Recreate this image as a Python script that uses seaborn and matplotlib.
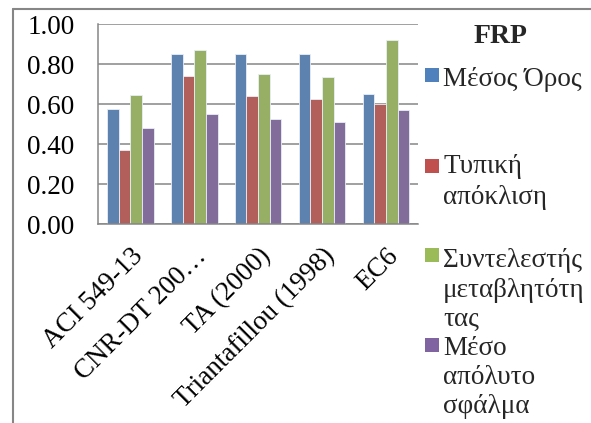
import matplotlib
matplotlib.use("Agg")
import matplotlib.pyplot as plt
from matplotlib.lines import Line2D
from matplotlib.patches import Rectangle
import seaborn as sns
import pandas as pd
import numpy as np

# Categories (design models) and the four statistics per model
models = ["ACI 549-13", "CNR-DT 200…", "TA (2000)", "Triantafillou (1998)", "EC6"]
mean_vals = [0.577, 0.850, 0.853, 0.852, 0.650]
std_vals = [0.373, 0.740, 0.642, 0.627, 0.602]
cov_vals = [0.647, 0.870, 0.752, 0.737, 0.923]
mae_vals = [0.480, 0.553, 0.527, 0.512, 0.572]

series_names = ["Μέσος Όρος", "Τυπική απόκλιση", "Συντελεστής μεταβλητότητας", "Μέσο απόλυτο σφάλμα"]
legend_lines = [["Μέσος Όρος"], ["Τυπική", "απόκλιση"],
                ["Συντελεστής", "μεταβλητότη", "τας"], ["Μέσο", "απόλυτο", "σφάλμα"]]
legend_title = "FRP"
yticks = [0.0, 0.2, 0.4, 0.6, 0.8, 1.0]
colors = ["#4F81BD", "#C0504D", "#9BBB59", "#8064A2"]

rows = []
for name, vals in zip(series_names, [mean_vals, std_vals, cov_vals, mae_vals]):
    for m, v in zip(models, vals):
        rows.append({"model": m, "stat": name, "value": v})
df = pd.DataFrame(rows)

sns.set_theme(style="white")
plt.rcParams["font.family"] = ["Liberation Serif", "DejaVu Serif"]

W, H = 591, 423
fig = plt.figure(figsize=(W / 100, H / 100), dpi=100)
fig.patch.set_facecolor("white")

def fx(px):
    return px / W

def fy(py):
    return 1 - py / H

ax = fig.add_axes([fx(98.3), fy(224.3), fx(418) - fx(98.3), fy(24.3) - fy(224.3)])

sns.barplot(data=df, x="model", y="value", hue="stat", order=models,
            hue_order=series_names, palette=colors, width=0.73, gap=0,
            edgecolor="#E8EEF6", linewidth=0.6, legend=False, ax=ax)

grid_c = "#868686"
ax.set_ylim(0, 1.0)
ax.set_xlim(-0.5, len(models) - 0.5)
ax.set_yticks(yticks)
ax.set_yticklabels([f"{t:.2f}" for t in yticks], fontsize=19.5)
for t in yticks:
    ax.axhline(t, color=grid_c, lw=1.1, zorder=0)
ax.set_axisbelow(True)

ax.set_xticks(range(len(models)))
ax.set_xticklabels(models, fontsize=19.5, rotation=45, ha="right",
                   rotation_mode="anchor")
ax.set_xticks(np.arange(-0.5, len(models), 1.0), minor=True)
ax.tick_params(axis="x", which="major", length=0, pad=14)
ax.tick_params(axis="x", which="minor", length=6, width=1.1, color=grid_c, direction="out")
ax.tick_params(axis="y", which="major", length=6, width=1.1, color=grid_c,
               direction="out", pad=11)
ax.set_xlabel("")
ax.set_ylabel("")
for s in ["top", "right"]:
    ax.spines[s].set_visible(False)
ax.spines["bottom"].set_color(grid_c)
ax.spines["bottom"].set_linewidth(1.1)
ax.spines["left"].set_color(grid_c)
ax.spines["left"].set_linewidth(1.1)
for lab in ax.get_yticklabels() + ax.get_xticklabels():
    lab.set_color("black")

# Chart-area frame (left and top edges)
fig.add_artist(Line2D([fx(12.5), fx(12.5)], [fy(9.3), 0], color=grid_c, lw=1.5))
fig.add_artist(Line2D([fx(12.5), 1], [fy(9.3), fy(9.3)], color=grid_c, lw=1.5))

# Legend
fig.text(fx(500), fy(43), legend_title, fontsize=20, fontweight="bold",
         ha="center", va="baseline")
marker_centers = [75, 166, 255, 345]
baselines = [[86], [173, 204], [267, 297, 326], [355, 384, 413]]
for c, mc, lines, bls in zip(colors, marker_centers, legend_lines, baselines):
    fig.add_artist(Rectangle((fx(425), fy(mc + 7)), fx(14), fy(0) - fy(14),
                             transform=fig.transFigure, facecolor=c, edgecolor="none"))
    for line, b in zip(lines, bls):
        fig.text(fx(443), fy(b), line, fontsize=19.5, ha="left", va="baseline")

fig.savefig("out.png", dpi=100)
